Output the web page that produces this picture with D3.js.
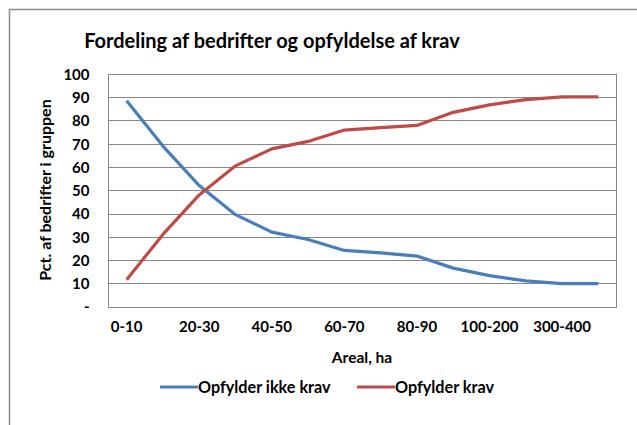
<!DOCTYPE html>
<html lang="da">
<head>
<meta charset="utf-8">
<title>Fordeling af bedrifter og opfyldelse af krav</title>
<script src="https://cdn.jsdelivr.net/npm/d3@7/dist/d3.min.js"></script>
<style>
  body { margin: 0; background: #fff; }
  text { font-family: Lato, "Open Sans", sans-serif; fill: #000; font-weight: bold; }
</style>
</head>
<body>
<script>
// Data
var categories = ["0-10", "10-20", "20-30", "30-40", "40-50", "50-60", "60-70",
                  "70-80", "80-90", "90-100", "100-200", "200-300", "300-400", ">400"];
var ikkeKrav = [88.5, 69, 52, 39.5, 32, 28.8, 24.1, 23.1, 21.7, 16.5, 13.3, 11, 9.8, 9.8];
var krav     = [11.5, 31, 48, 60.5, 67.8, 71, 75.9, 76.9, 77.9, 83.5, 86.7, 89, 90.2, 90.2];
var yTicks = [0, 10, 20, 30, 40, 50, 60, 70, 80, 90, 100];

var w = 637, h = 425;
var plotLeft = 108.5, plotRight = 616.5, plotTop = 74, plotBottom = 306.5;

var svg = d3.select("body").append("svg")
  .attr("width", w)
  .attr("height", h);

// outer chart frame (only top and left edges are visible)
svg.append("path")
  .attr("d", "M9.5," + h + "V9.5H" + w)
  .attr("fill", "none")
  .attr("stroke", "#8c8c8c")
  .attr("stroke-width", 1.5);

var x = d3.scaleBand().domain(categories).range([plotLeft, plotRight]);
var y = d3.scaleLinear().domain([0, 100]).range([plotBottom, plotTop]);

// gridlines
svg.append("g")
  .selectAll("line")
  .data(yTicks)
  .enter()
  .append("line")
  .attr("x1", plotLeft).attr("x2", plotRight)
  .attr("y1", function(d) { return Math.round(y(d)) + 0.5; })
  .attr("y2", function(d) { return Math.round(y(d)) + 0.5; })
  .attr("stroke", "#878787");

// plot border
svg.append("rect")
  .attr("x", plotLeft).attr("y", Math.round(plotTop) + 0.5)
  .attr("width", plotRight - plotLeft)
  .attr("height", Math.round(plotBottom) - Math.round(plotTop))
  .attr("fill", "none")
  .attr("stroke", "#878787");

// y axis
var yAxis = d3.axisLeft(y)
  .tickValues(yTicks)
  .tickSize(0)
  .tickPadding(19)
  .tickFormat(function(d) { return d === 0 ? "-" : d; });

var gy = svg.append("g")
  .attr("transform", "translate(" + plotLeft + ",0)")
  .call(yAxis);
gy.select(".domain").remove();
gy.selectAll("text")
  .style("font-size", "15px")
  .attr("dy", "0.35em");

// x axis, every second label shown
var xAxis = d3.axisBottom(x)
  .tickSize(0)
  .tickPadding(15)
  .tickFormat(function(d, i) { return i % 2 === 0 ? d : ""; });

var gx = svg.append("g")
  .attr("transform", "translate(0," + plotBottom + ")")
  .call(xAxis);
gx.select(".domain").remove();
gx.selectAll("text")
  .style("font-size", "15px");

// lines
var line = d3.line()
  .x(function(d, i) { return x(categories[i]) + x.bandwidth() / 2; })
  .y(function(d) { return y(d); });

var series = [
  { name: "Opfylder ikke krav", values: ikkeKrav, color: "#4a7ebb" },
  { name: "Opfylder krav", values: krav, color: "#be4b48" }
];

svg.selectAll(".serie")
  .data(series)
  .enter()
  .append("path")
  .attr("class", "serie")
  .attr("d", function(d) { return line(d.values); })
  .attr("fill", "none")
  .attr("stroke", function(d) { return d.color; })
  .attr("stroke-width", 3.2)
  .attr("stroke-linejoin", "round");

// titles
svg.append("text")
  .attr("x", 272).attr("y", 48)
  .attr("text-anchor", "middle")
  .style("font-size", "20px")
  .text("Fordeling af bedrifter og opfyldelse af krav");

svg.append("text")
  .attr("x", 362).attr("y", 363)
  .attr("text-anchor", "middle")
  .style("font-size", "15.5px")
  .text("Areal, ha");

svg.append("text")
  .attr("transform", "translate(51,190) rotate(-90)")
  .attr("text-anchor", "middle")
  .style("font-size", "16px")
  .text("Pct. af bedrifter i gruppen");

// legend
var legendX = [160, 357];
var legend = svg.selectAll(".legend")
  .data(series)
  .enter()
  .append("g")
  .attr("class", "legend")
  .attr("transform", function(d, i) { return "translate(" + legendX[i] + ",387)"; });

legend.append("line")
  .attr("x1", 0).attr("x2", 38)
  .attr("stroke", function(d) { return d.color; })
  .attr("stroke-width", 3.2);

legend.append("text")
  .attr("x", 38).attr("dy", "0.35em")
  .style("font-size", "16.2px")
  .text(function(d) { return d.name; });
</script>
</body>
</html>
